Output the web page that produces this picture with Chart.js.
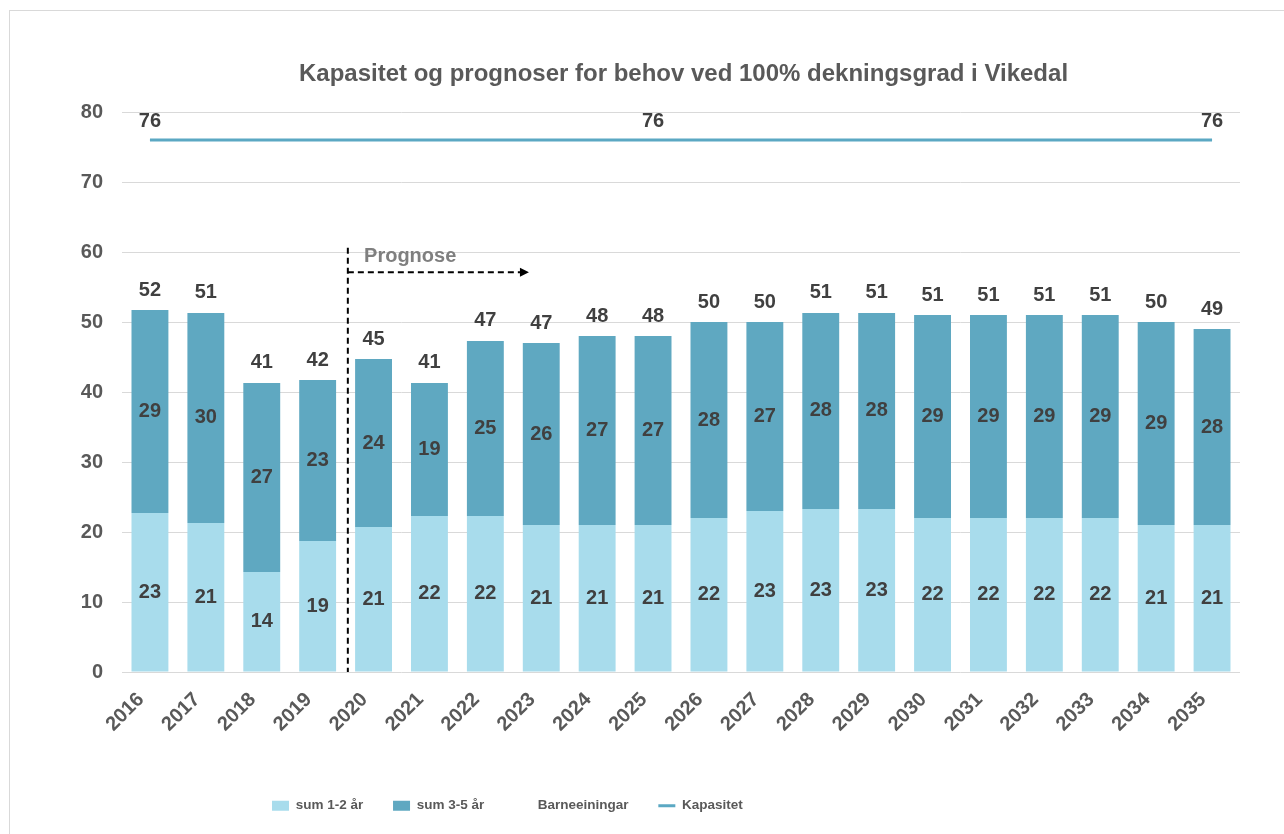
<!DOCTYPE html>
<html>
<head>
<meta charset="utf-8">
<script src="https://cdn.jsdelivr.net/npm/chart.js@4"></script>
<style>
    html, body { margin: 0; padding: 0; background: #fff; }
</style>
</head>
<body>
<canvas id="vikedal-chart" width="1284" height="834"></canvas>
<script>
    const years = ['2016', '2017', '2018', '2019', '2020', '2021', '2022', '2023', '2024', '2025',
                   '2026', '2027', '2028', '2029', '2030', '2031', '2032', '2033', '2034', '2035'];
    const sum_1_2 = [22.7, 21.3, 14.3, 18.7, 20.7, 22.3, 22.3, 21, 21, 21, 22, 23, 23.3, 23.3, 22, 22, 22, 22, 21, 21];
    const sum_3_5 = [29, 30, 27, 23, 24, 19, 25, 26, 27, 27, 28, 27, 28, 28, 29, 29, 29, 29, 29, 28];
    const barneeiningar = [51.7, 51.3, 41.3, 41.7, 44.7, 41.3, 47.3, 47, 48, 48, 50, 50, 51.3, 51.3, 51, 51, 51, 51, 50, 49];
    const kapasitet = [76, 76, 76, 76, 76, 76, 76, 76, 76, 76, 76, 76, 76, 76, 76, 76, 76, 76, 76, 76];
    const kapasitet_labelled = [0, 9, 19];
    const y_ticks = [0, 10, 20, 30, 40, 50, 60, 70, 80];

    // prognose marker, in axis units (category index / value)
    const prognose_from = 3.54, prognose_to = 6.78;
    const prognose_top = 60.6, prognose_arrow_y = 57.1;
    const prognose_text_x = 3.83, prognose_text_y = 59.3;

    const FONT = '"Liberation Sans", Arial, sans-serif';
    const TEXT_GREY = '#595959';
    const LABEL_GREY = '#404040';
    const LIGHT = '#A8DCEC';
    const DARK = '#5FA8C1';
    const LINE = '#5BA8C3';
    const PLOT_BOTTOM = 672;

    const frame = {
        id: 'frame',
        beforeDraw(chart) {
            const ctx = chart.ctx;
            ctx.save();
            ctx.fillStyle = '#fff';
            ctx.fillRect(0, 0, chart.width, chart.height);
            ctx.strokeStyle = '#D9D9D9';
            ctx.lineWidth = 1;
            ctx.strokeRect(9.5, 10.5, 1400, 1000);
            ctx.restore();
        }
    };

    // excel puts the title over the plot and the legend left of centre
    const box_place = {
        id: 'box_place',
        afterLayout(chart) {
            const t = chart.titleBlock;
            t.left = 127;
            t.right = 1240;

            const lg = chart.legend;
            const pad = lg.options.labels.padding;
            const w = lg.right - lg.left, h = lg.bottom - lg.top;
            lg.left = 272 - pad;
            lg.right = lg.left + w;
            lg.top = 807 - pad - 8.1;
            lg.bottom = lg.top + h;
        }
    };

    const value_labels = {
        id: 'value_labels',
        afterDatasetsDraw(chart) {
            const ctx = chart.ctx;
            ctx.save();
            ctx.font = 'bold 20px ' + FONT;
            ctx.fillStyle = LABEL_GREY;
            ctx.textAlign = 'center';
            ctx.textBaseline = 'middle';
            [0, 1].forEach((i) => {
                chart.getDatasetMeta(i).data.forEach((bar, j) => {
                    ctx.fillText(Math.round(chart.data.datasets[i].data[j]), bar.x, (bar.y + bar.base) / 2);
                });
            });
            chart.getDatasetMeta(2).data.forEach((pt, j) => {
                ctx.fillText(Math.round(barneeiningar[j]), pt.x, pt.y - 20);
            });
            kapasitet_labelled.forEach((j) => {
                const pt = chart.getDatasetMeta(3).data[j];
                ctx.fillText(kapasitet[j], pt.x, pt.y - 19);
            });
            ctx.restore();
        }
    };

    const prognose_marker = {
        id: 'prognose_marker',
        afterDraw(chart) {
            const {ctx, scales: {x, y}} = chart;
            const x0 = x.getPixelForValue(prognose_from);
            const x1 = x.getPixelForValue(prognose_to);
            const y_arrow = y.getPixelForValue(prognose_arrow_y);
            ctx.save();
            ctx.strokeStyle = '#000';
            ctx.lineWidth = 2;
            ctx.setLineDash([6, 4]);
            ctx.beginPath();
            ctx.moveTo(x0, y.getPixelForValue(prognose_top));
            ctx.lineTo(x0, y.getPixelForValue(0));
            ctx.moveTo(x0, y_arrow);
            ctx.lineTo(x1 - 8, y_arrow);
            ctx.stroke();
            ctx.setLineDash([]);
            ctx.fillStyle = '#000';
            ctx.beginPath();
            ctx.moveTo(x1, y_arrow);
            ctx.lineTo(x1 - 9, y_arrow - 4.5);
            ctx.lineTo(x1 - 9, y_arrow + 4.5);
            ctx.closePath();
            ctx.fill();
            ctx.font = 'bold 20px ' + FONT;
            ctx.fillStyle = '#7F7F7F';
            ctx.textAlign = 'left';
            ctx.textBaseline = 'middle';
            ctx.fillText('Prognose', x.getPixelForValue(prognose_text_x), y.getPixelForValue(prognose_text_y));
            ctx.restore();
        }
    };

    const ctx = document.getElementById('vikedal-chart').getContext('2d');

    const vikedalChart = new Chart(ctx, {
        type: 'bar',
        data: {
            labels: years,
            datasets: [
                {
                    label: 'sum 1-2 år',
                    data: sum_1_2,
                    backgroundColor: LIGHT,
                    stack: 'bars',
                    order: 2,
                    categoryPercentage: 1,
                    barPercentage: 0.66,
                }, {
                    label: 'sum 3-5 år',
                    data: sum_3_5,
                    backgroundColor: DARK,
                    stack: 'bars',
                    order: 2,
                    categoryPercentage: 1,
                    barPercentage: 0.66,
                }, {
                    type: 'line',
                    label: 'Barneeiningar',
                    data: barneeiningar,
                    stack: 'total',
                    showLine: false,
                    pointRadius: 0,
                    borderColor: 'rgba(0,0,0,0)',
                    backgroundColor: 'rgba(0,0,0,0)',
                    order: 1,
                }, {
                    type: 'line',
                    label: 'Kapasitet',
                    data: kapasitet,
                    stack: 'kapasitet',
                    borderColor: LINE,
                    borderWidth: 3,
                    pointRadius: 0,
                    fill: false,
                    order: 0,
                }
            ],
        },
        options: {
            responsive: false,
            animation: false,
            devicePixelRatio: 1,
            layout: {
                padding: {left: 0, right: 44, top: 0, bottom: 0}
            },
            scales: {
                x: {
                    stacked: true,
                    grid: {display: false},
                    border: {display: false},
                    ticks: {
                        autoSkip: false,
                        minRotation: 45,
                        maxRotation: 45,
                        padding: 8,
                        labelOffset: -9,
                        color: TEXT_GREY,
                        font: {family: FONT, size: 20, weight: 'bold'},
                    },
                    afterFit: (scale) => {
                        scale.height = scale.chart.height - PLOT_BOTTOM - scale.chart.legend.height;
                    },
                },
                y: {
                    stacked: true,
                    min: 0,
                    max: 80,
                    grid: {color: '#D9D9D9', drawTicks: false},
                    border: {display: false},
                    afterBuildTicks: (scale) => { scale.ticks = y_ticks.map((v) => ({value: v})); },
                    ticks: {
                        padding: 19,
                        color: TEXT_GREY,
                        font: {family: FONT, size: 20, weight: 'bold'},
                    },
                    afterFit: (scale) => { scale.width = 122; },
                }
            },
            plugins: {
                tooltip: {enabled: false},
                title: {
                    display: true,
                    text: 'Kapasitet og prognoser for behov ved 100% dekningsgrad i Vikedal',
                    color: TEXT_GREY,
                    font: {family: FONT, size: 24, weight: 'bold'},
                    padding: {top: 60, bottom: 23.2},
                },
                legend: {
                    position: 'bottom',
                    align: 'start',
                    labels: {
                        color: TEXT_GREY,
                        font: {family: FONT, size: 13.5, weight: 'bold'},
                        usePointStyle: true,
                        pointStyleWidth: 17,
                        boxHeight: 10,
                        padding: 29.75,
                        generateLabels: (chart) => [
                            {text: 'sum 1-2 år', fillStyle: LIGHT, strokeStyle: LIGHT, lineWidth: 0, pointStyle: 'rect', fontColor: TEXT_GREY, datasetIndex: 0},
                            {text: 'sum 3-5 år', fillStyle: DARK, strokeStyle: DARK, lineWidth: 0, pointStyle: 'rect', fontColor: TEXT_GREY, datasetIndex: 1},
                            {text: 'Barneeiningar', fillStyle: 'rgba(0,0,0,0)', strokeStyle: 'rgba(0,0,0,0)', lineWidth: 0, pointStyle: 'rect', fontColor: TEXT_GREY, datasetIndex: 2},
                            {text: 'Kapasitet', fillStyle: LINE, strokeStyle: LINE, lineWidth: 3, pointStyle: 'line', fontColor: TEXT_GREY, datasetIndex: 3},
                        ],
                    },
                },
            },
        },
        plugins: [frame, box_place, value_labels, prognose_marker],
    });
</script>
</body>
</html>
